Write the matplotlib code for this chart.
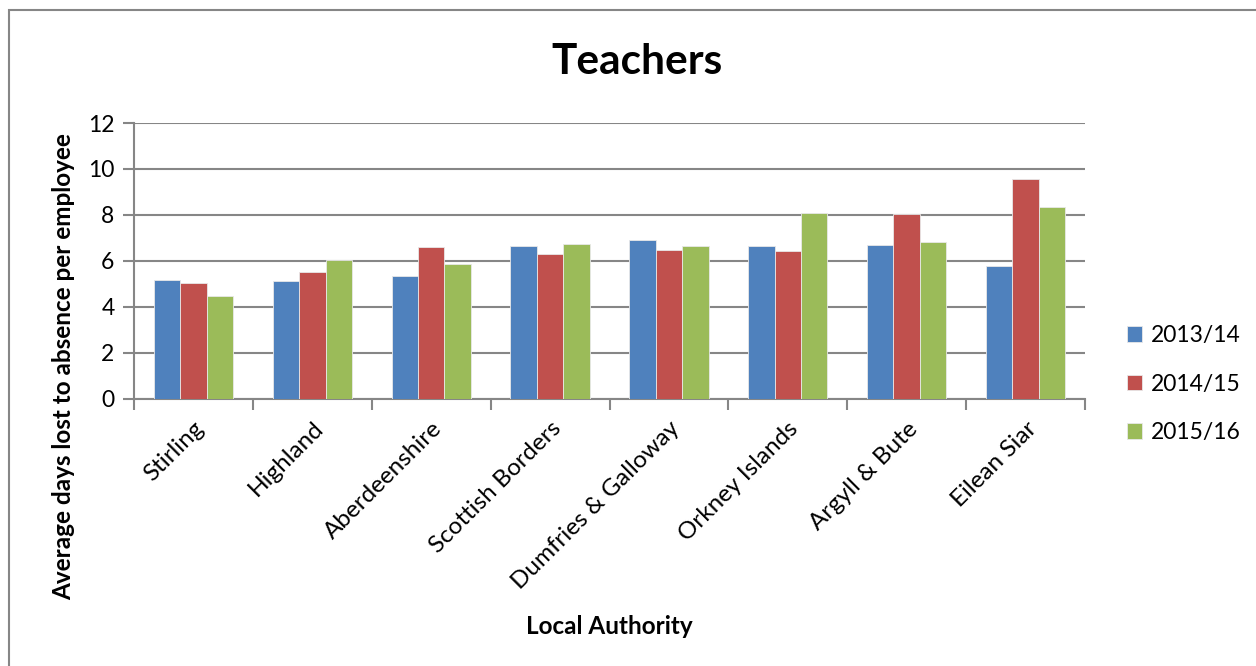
import numpy as np
import matplotlib
matplotlib.use('Agg')
import matplotlib.pyplot as plt
from matplotlib.patches import Rectangle

plt.rcParams['font.family'] = ['Lato', 'DejaVu Sans']

# data
authorities = ['Stirling', 'Highland', 'Aberdeenshire', 'Scottish Borders',
               'Dumfries & Galloway', 'Orkney Islands', 'Argyll & Bute', 'Eilean Siar']
years = ['2013/14', '2014/15', '2015/16']
y2013 = [5.16, 5.10, 5.35, 6.65, 6.91, 6.64, 6.67, 5.75]
y2014 = [5.04, 5.52, 6.61, 6.30, 6.48, 6.43, 8.03, 9.55]
y2015 = [4.45, 6.04, 5.84, 6.75, 6.64, 8.07, 6.81, 8.36]
colors = ['#4F81BD', '#C0504D', '#9BBB59']

grey = '#868686'

fig = plt.figure(figsize=(12.56, 6.66), dpi=100)
ax = fig.add_axes([134 / 1256, 1 - 398.5 / 666, (1085 - 134) / 1256, (398.5 - 123) / 666])

x = np.arange(len(authorities))
w = 1 / 4.5
for i, (vals, c, lab) in enumerate(zip([y2013, y2014, y2015], colors, years)):
    ax.bar(x + (i - 1) * w, vals, w, color=c, edgecolor='#e8e8e8', linewidth=0.6,
           label=lab, zorder=3)

ax.set_xlim(-0.5, len(authorities) - 0.5)
ax.set_ylim(0, 12)
ax.set_yticks(range(0, 13, 2))
ax.yaxis.grid(True, color=grey, linewidth=1.5, zorder=0)
ax.set_axisbelow(True)

# category labels centred, tick marks between categories
ax.set_xticks(x)
ax.set_xticklabels(authorities, rotation=45, ha='right', va='top',
                   rotation_mode='anchor', fontsize=17.5)
ax.set_xticks(np.arange(-0.5, len(authorities)), minor=True)
ax.tick_params(axis='x', which='major', length=0, pad=14)
ax.tick_params(axis='x', which='minor', length=8, width=1.5, color=grey)
ax.tick_params(axis='y', length=8, width=1.5, color=grey, labelsize=16.5, pad=6)

for s in ['top', 'right']:
    ax.spines[s].set_visible(False)
for s in ['left', 'bottom']:
    ax.spines[s].set_color(grey)
    ax.spines[s].set_linewidth(1.5)

fig.text(637 / 1256, 1 - 62 / 666, 'Teachers', fontsize=30.5, fontweight='bold',
         ha='center', va='center')
fig.text(609 / 1256, 1 - 627 / 666, 'Local Authority', fontsize=17.5,
         fontweight='bold', ha='center', va='center')
fig.text(64 / 1256, 1 - 367 / 666, 'Average days lost to absence per employee',
         fontsize=17.5, fontweight='bold', rotation=90, ha='center', va='center')

ax.legend(loc='center left', bbox_to_anchor=(1118 / 1256, 1 - 384 / 666),
          bbox_transform=fig.transFigure, frameon=False, fontsize=16.5,
          handlelength=0.65, handleheight=0.65, handletextpad=0.4,
          labelspacing=1.2, borderaxespad=0)

# chart border
fig.patches.append(Rectangle((9 / 1256, -0.1), 1.2, 1 - 10.5 / 666 + 0.1,
                             transform=fig.transFigure, fill=False,
                             edgecolor=grey, linewidth=1.5))

fig.savefig('out.png', dpi=100)
